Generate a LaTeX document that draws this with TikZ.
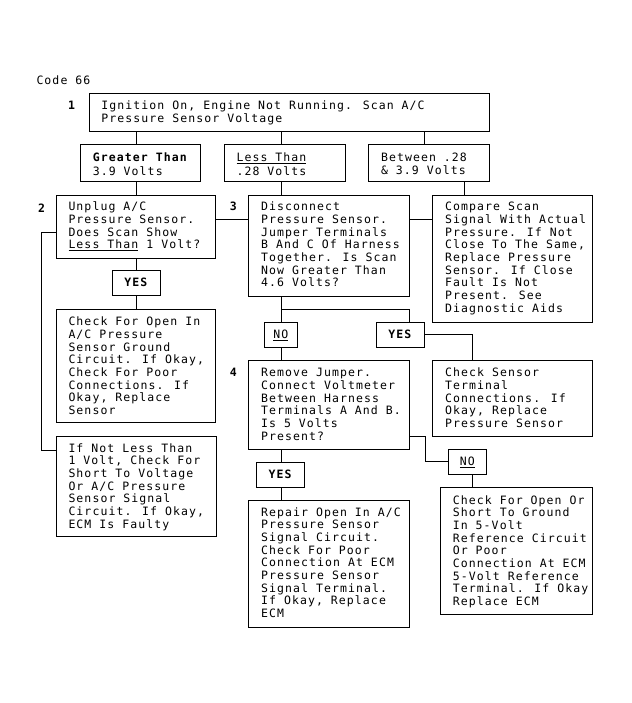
\documentclass[tikz,border=0pt]{standalone}
\usepackage{fontspec}
\newfontfamily\mono[LetterSpace=9.4]{DejaVu Sans Mono}
\newcommand{\btx}[6][12.7pt]{\parbox[c][#3][t]{#2}{\fontsize{11.5pt}{#1}\selectfont\vspace*{\dimexpr#4-\ht\strutbox\relax}\leftskip=#5\relax\rightskip=-40pt plus 1fil\relax\strut#6}}
\begin{document}
\begin{tikzpicture}[x=1pt,y=-1pt,
  every node/.style={font=\mono\fontsize{11.5pt}{12.7pt}\selectfont},
  tbox/.style={draw, line width=1pt, inner sep=0pt, outer sep=0pt, anchor=north west},
  lbl/.style={draw, line width=1pt, inner sep=0pt, outer sep=0pt, anchor=north west, minimum height=25pt, text height=8.3pt, text depth=0pt},
  num/.style={anchor=base, inner sep=0pt, font=\mono\fontsize{11.5pt}{12.7pt}\selectfont\bfseries},
  conn/.style={line width=1pt}]
\useasboundingbox (0,0) rectangle (631,703);
\fill[white] (0,0) rectangle (631,703);

\node[anchor=base west, inner sep=0pt] (code) at (36.3,85) {Code 66};

\node[num] (k1) at (71.5,110) {1};
\node[num] (k2) at (41.5,212) {2};
\node[num] (k3) at (233.3,211) {3};
\node[num] (k4) at (233.3,376.7) {4};

% top box
\node[tbox] (b1) at (89,94) {\btx[13.5pt]{400pt}{37.7pt}{15.3pt}{12.4pt}{Ignition On, Engine Not Running. Scan A/C\\Pressure Sensor Voltage}};

% three result boxes
\node[tbox] (g) at (80.7,144.3) {\btx[12pt]{120pt}{37.7pt}{17pt}{12.1pt}{\textbf{Greater Than}\\3.9 Volts}};
\node[tbox] (l) at (224.2,144.3) {\btx[12pt]{121pt}{37.7pt}{17pt}{12.3pt}{\underline{Less Than}\\.28 Volts}};
\node[tbox] (bw) at (368.5,144.3) {\btx[12pt]{120.5pt}{37.7pt}{17pt}{12.5pt}{Between .28\\\& 3.9 Volts}};

% second row
\node[tbox] (b2) at (56.7,196) {\btx{159pt}{62.3pt}{14.7pt}{11.8pt}{Unplug A/C\\Pressure Sensor.\\Does Scan Show\\\underline{Less Than} 1 Volt?}};
\node[tbox] (b3) at (248.3,196) {\btx{161pt}{100.5pt}{14.7pt}{12.8pt}{Disconnect\\Pressure Sensor.\\Jumper Terminals\\B And C Of Harness\\Together. Is Scan\\Now Greater Than\\4.6 Volts?}};
\node[tbox] (bc) at (432.7,196) {\btx{160pt}{126.3pt}{14.7pt}{12.5pt}{Compare Scan\\Signal With Actual\\Pressure. If Not\\Close To The Same,\\Replace Pressure\\Sensor. If Close\\Fault Is Not\\Present. See\\Diagnostic Aids}};

% left column
\node[lbl, minimum width=48.4pt] (y1) at (112.3,270) {\textbf{YES}};
\node[tbox] (ck1) at (56.7,309.3) {\btx{159pt}{113.4pt}{16.4pt}{11.8pt}{Check For Open In\\A/C Pressure\\Sensor Ground\\Circuit. If Okay,\\Check For Poor\\Connections. If\\Okay, Replace\\Sensor}};
\node[tbox] (nl) at (56.7,436.7) {\btx{160pt}{99.5pt}{15.3pt}{11.8pt}{If Not Less Than\\1 Volt, Check For\\Short To Voltage\\Or A/C Pressure\\Sensor Signal\\Circuit. If Okay,\\ECM Is Faulty}};

% middle column
\node[lbl, minimum width=33pt] (n1) at (264.3,322.3) {\underline{NO}};
\node[lbl, minimum width=47.3pt] (y2) at (376.7,322.3) {\textbf{YES}};
\node[tbox] (b4) at (248.3,360.5) {\btx{161pt}{88.5pt}{16.2pt}{12.8pt}{Remove Jumper.\\Connect Voltmeter\\Between Harness\\Terminals A And B.\\Is 5 Volts\\Present?}};
\node[lbl, minimum width=48.5pt] (y3) at (256.4,462) {\textbf{YES}};
\node[tbox] (rep) at (248.3,500.5) {\btx{161pt}{126.5pt}{15.5pt}{12.8pt}{Repair Open In A/C\\Pressure Sensor\\Signal Circuit.\\Check For Poor\\Connection At ECM\\Pressure Sensor\\Signal Terminal.\\If Okay, Replace\\ECM}};

% right column
\node[tbox] (cs) at (432.7,360.7) {\btx{160pt}{75.6pt}{16pt}{12.5pt}{Check Sensor\\Terminal\\Connections. If\\Okay, Replace\\Pressure Sensor}};
\node[lbl, minimum width=38pt] (n2) at (448.3,449.3) {\underline{NO}};
\node[tbox] (cor) at (440.7,487.7) {\btx{152pt}{126.3pt}{16.3pt}{12.1pt}{Check For Open Or\\Short To Ground\\In 5-Volt\\Reference Circuit\\Or Poor\\Connection At ECM\\5-Volt Reference\\Terminal. If Okay\\Replace ECM}};

% helper coordinates
\coordinate (c1) at ([xshift=56pt]g.north west);
\coordinate (c2) at ([xshift=56.8pt]l.north west);
\coordinate (c3) at ([xshift=55.5pt]bw.north west);
\coordinate (c3b) at ([xshift=96.2pt]bw.north west);
\coordinate (c4) at ([xshift=31.6pt]cor.north west);
\coordinate (r1) at ([yshift=-24pt]b2.north east);
\coordinate (r2) at ([yshift=-36.7pt]b2.north west);
\coordinate (lx) at ([xshift=-15pt]r2);
\coordinate (r3) at ([yshift=-13.8pt]nl.north west);
\coordinate (j1) at ([yshift=-12.8pt]b3.south -| c2);
\coordinate (r4) at ([yshift=-75.5pt]b4.north east);
\coordinate (c5) at ([xshift=15.7pt]r4);

% connectors
\draw[conn] (c1 |- b1.south) -- (c1 |- g.north);
\draw[conn] (c2 |- b1.south) -- (c2 |- l.north);
\draw[conn] (c3 |- b1.south) -- (c3 |- bw.north);
\draw[conn] (c1 |- g.south) -- (c1 |- b2.north);
\draw[conn] (c2 |- l.south) -- (c2 |- b3.north);
\draw[conn] (c3b |- bw.south) -- (c3b |- bc.north);
\draw[conn] (r1) -- (r1 -| b3.west);
\draw[conn] (r1 -| b3.east) -- (r1 -| bc.west);
\draw[conn] (c1 |- b2.south) -- (c1 |- y1.north);
\draw[conn] (c1 |- y1.south) -- (c1 |- ck1.north);
\draw[conn] (r2) -- (lx) |- (r3);
\draw[conn] (c2 |- b3.south) -- (c2 |- n1.north);
\draw[conn] (j1) -| (y2.north -| b3.east);
\draw[conn] (c2 |- n1.south) -- (c2 |- b4.north);
\draw[conn] (y2.east) -| (c4 |- cs.north);
\draw[conn] (r4) -- (c5) |- (n2.west);
\draw[conn] (c4 |- n2.south) -- (c4 |- cor.north);
\draw[conn] (c2 |- b4.south) -- (c2 |- y3.north);
\draw[conn] (c2 |- y3.south) -- (c2 |- rep.north);
\end{tikzpicture}
\end{document}
